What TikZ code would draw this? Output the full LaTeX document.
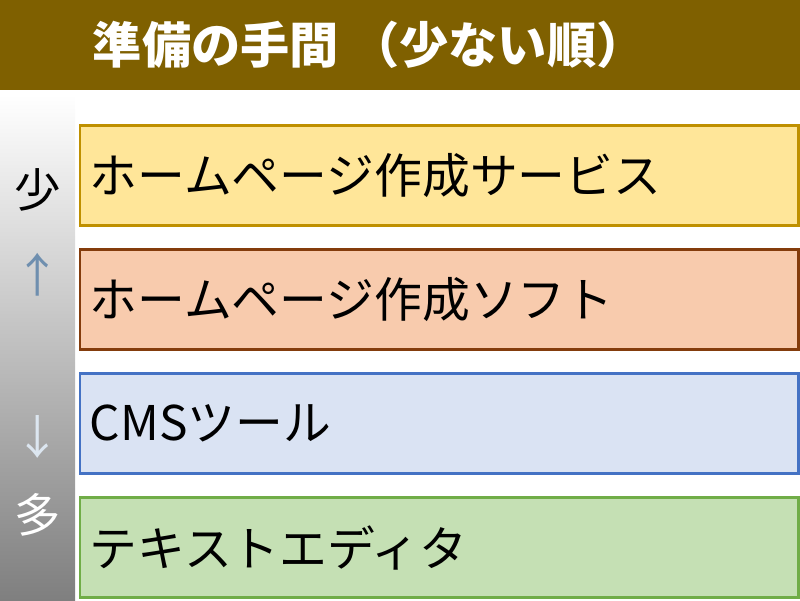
\documentclass[tikz,border=0pt]{standalone}
\usepackage{fontspec}
\setmainfont{Noto Sans CJK JP}

\definecolor{headbrown}{HTML}{7F6000}
\definecolor{svcfill}{HTML}{FFE699}
\definecolor{svcline}{HTML}{BF9000}
\definecolor{softfill}{HTML}{F8CBAD}
\definecolor{softline}{HTML}{843C0C}
\definecolor{cmsfill}{HTML}{DAE3F3}
\definecolor{cmsline}{HTML}{4472C4}
\definecolor{edfill}{HTML}{C5E0B4}
\definecolor{edline}{HTML}{70AD47}
\definecolor{barbottom}{HTML}{7F7F7F}
\definecolor{uparrow}{HTML}{6F8FAF}
\definecolor{downarrow}{HTML}{DCE6F0}

\begin{document}
\begin{tikzpicture}[x=0.025cm, y=-0.025cm,
    item/.style={draw, line width=2pt, minimum height=2.5cm, text width=17.45cm,
                 inner xsep=0.25cm, align=left, font=\fontsize{34pt}{40pt}\selectfont},
    side/.style={font=\fontsize{33pt}{38pt}\selectfont}]

    \useasboundingbox (0,0) rectangle (800,600);

    % 标题栏
    \fill[headbrown] (0,0) rectangle (800,90);
    \node[anchor=west, text=white, font=\fontsize{35pt}{40pt}\selectfont\bfseries] (title) at (88,45) {準備の手間 （少ない順）};

    % 左侧渐变条
    \shade[top color=white, bottom color=barbottom] (0,95) rectangle (75,600);

    % 左侧文字
    \node[side, text=black] (few) at (38,190) {少};
    \node[side, text=uparrow] (up) at (38,275) {↑};
    \node[side, text=downarrow] (down) at (38,437) {↓};
    \node[side, text=white] (many) at (38,515) {多};

    % 四个方框
    \foreach \i/\name/\txt/\fc/\dc in {0/svc/ホームページ作成サービス/svcfill/svcline,
                                      1/soft/ホームページ作成ソフト/softfill/softline,
                                      2/cms/CMSツール/cmsfill/cmsline,
                                      3/editor/テキストエディタ/edfill/edline}
        \node[item, fill=\fc, draw=\dc] (\name) at (439,{175.5+124*\i}) {\txt};
\end{tikzpicture}
\end{document}
